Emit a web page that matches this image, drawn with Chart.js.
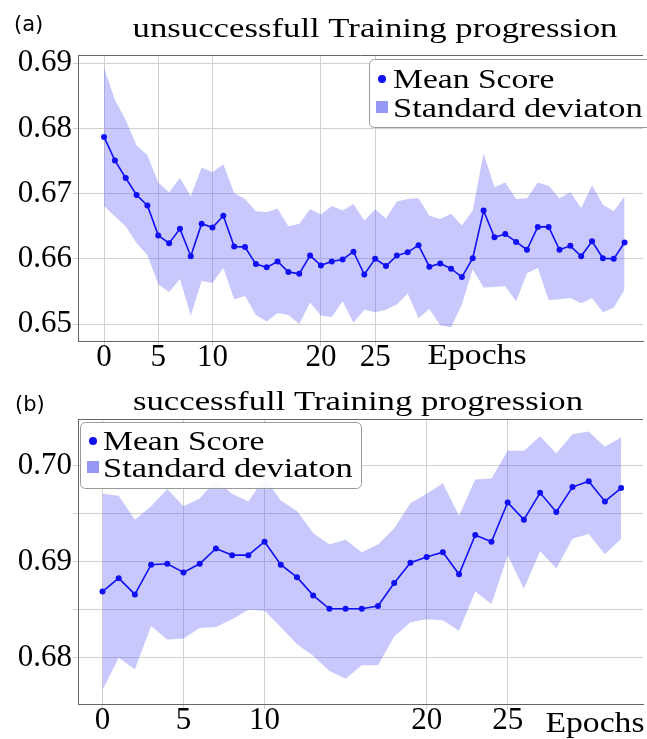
<!DOCTYPE html>
<html>
<head>
<meta charset="utf-8">
<script src="https://cdn.jsdelivr.net/npm/chart.js@4.4.1/dist/chart.umd.min.js"></script>
<style>
  body { margin: 0; background: #fff; }
  #wrap { position: relative; width: 647px; height: 739px; }
  canvas { position: absolute; left: 0; }
</style>
</head>
<body>
<div id="wrap">
  <canvas id="chartA" width="647" height="370" style="top:0"></canvas>
  <canvas id="chartB" width="647" height="369" style="top:370px"></canvas>
</div>
<script>
// (a) unsuccessful run, epochs 0..48
const meanA = [0.6787, 0.6751, 0.6724, 0.6698, 0.6682, 0.6636, 0.6624, 0.6646, 0.6604, 0.6654,
               0.6648, 0.6666, 0.6619, 0.6618, 0.6592, 0.6587, 0.6596, 0.6580, 0.6577, 0.6605,
               0.6590, 0.6596, 0.6599, 0.6611, 0.6576, 0.6600, 0.6589, 0.6605, 0.6610, 0.6621,
               0.6588, 0.6593, 0.6585, 0.6572, 0.6601, 0.6674, 0.6633, 0.6638, 0.6626, 0.6614,
               0.6649, 0.6649, 0.6614, 0.6620, 0.6604, 0.6627, 0.6601, 0.6600, 0.6625];
const upperA = [0.6893, 0.6844, 0.6813, 0.6774, 0.6759, 0.6717, 0.6702, 0.6724, 0.6696, 0.6740,
                0.6733, 0.6745, 0.6701, 0.6692, 0.6673, 0.6672, 0.6677, 0.6650, 0.6654, 0.6676,
                0.6668, 0.6681, 0.6674, 0.6684, 0.6659, 0.6676, 0.6662, 0.6688, 0.6692, 0.6693,
                0.6666, 0.6661, 0.6669, 0.6651, 0.6674, 0.6762, 0.6710, 0.6717, 0.6692, 0.6693,
                0.6717, 0.6712, 0.6693, 0.6702, 0.6678, 0.6713, 0.6683, 0.6673, 0.6696];
const lowerA = [0.6681, 0.6665, 0.6650, 0.6624, 0.6606, 0.6561, 0.6549, 0.6569, 0.6513, 0.6566,
                0.6563, 0.6586, 0.6538, 0.6543, 0.6514, 0.6504, 0.6517, 0.6514, 0.6500, 0.6533,
                0.6513, 0.6511, 0.6535, 0.6502, 0.6522, 0.6518, 0.6522, 0.6530, 0.6547, 0.6509,
                0.6523, 0.6498, 0.6495, 0.6530, 0.6584, 0.6556, 0.6557, 0.6558, 0.6535, 0.6578,
                0.6586, 0.6537, 0.6538, 0.6540, 0.6532, 0.6540, 0.6518, 0.6525, 0.6553];

// (b) successful run, epochs 0..32
const meanB = [0.6869, 0.6883, 0.6866, 0.6897, 0.6898, 0.6889, 0.6898, 0.6914, 0.6907, 0.6907,
               0.6921, 0.6897, 0.6884, 0.6865, 0.6851, 0.6851, 0.6851, 0.6854, 0.6878, 0.6899,
               0.6905, 0.6910, 0.6887, 0.6928, 0.6921, 0.6962, 0.6944, 0.6972, 0.6952, 0.6978,
               0.6984, 0.6963, 0.6977];
const upperB = [0.6971, 0.6969, 0.6944, 0.6958, 0.6976, 0.6958, 0.6966, 0.6985, 0.6971, 0.6963,
                0.6988, 0.6964, 0.6953, 0.6930, 0.6918, 0.6923, 0.6910, 0.6918, 0.6935, 0.6961,
                0.6971, 0.6982, 0.6948, 0.6986, 0.6987, 0.7016, 0.7016, 0.7031, 0.7013, 0.7033,
                0.7036, 0.7020, 0.7030];
const lowerB = [0.6766, 0.6800, 0.6788, 0.6833, 0.6819, 0.6820, 0.6831, 0.6832, 0.6840, 0.6850,
                0.6849, 0.6832, 0.6814, 0.6802, 0.6786, 0.6778, 0.6792, 0.6792, 0.6822, 0.6837,
                0.6840, 0.6839, 0.6828, 0.6869, 0.6856, 0.6907, 0.6872, 0.6911, 0.6893, 0.6924,
                0.6929, 0.6908, 0.6924];

const xTicksA = [0, 5, 10, 20, 25];
const xTicksB = [0, 5, 10, 20, 25];
const yTicksA = [0.65, 0.655, 0.66, 0.665, 0.67, 0.675, 0.68, 0.685, 0.69];
const yTicksB = [0.68, 0.685, 0.69, 0.695, 0.70];

const seriesNames = ["Mean Score", "Standard deviaton"];

const lineColor = "#1010f2";
const bandColor = "rgba(95, 95, 245, 0.34)";
const bandKey = "rgba(95, 95, 245, 0.65)";
const gridColor = "#d0d0d0";
const frameColor = "#666";
const textColor = "#000";
const serifFont = '"Liberation Serif", "Times New Roman", serif';

function pts(arr) {
    return arr.map((v, i) => ({ x: i, y: v }));
}

// text a bit wider than Liberation Serif, like the original Libertine
function serifText(ctx, text, x, y, size, stretch, align) {
    ctx.save();
    ctx.font = size + "px " + serifFont;
    ctx.textAlign = align;
    ctx.textBaseline = "alphabetic";
    ctx.translate(x, y);
    ctx.scale(stretch, 1);
    ctx.fillText(text, 0, 0);
    ctx.restore();
}

const decor = {
    id: "decor",
    afterDraw(chart, args, o) {
        const ctx = chart.ctx;
        const a = chart.chartArea;
        ctx.save();

        // top edge of the frame
        ctx.strokeStyle = frameColor;
        ctx.lineWidth = 1;
        ctx.beginPath();
        ctx.moveTo(a.left, a.top + 0.5);
        ctx.lineTo(a.right, a.top + 0.5);
        ctx.stroke();

        ctx.fillStyle = textColor;
        ctx.font = '21px "DejaVu Sans"';
        ctx.textAlign = "left";
        ctx.fillText(o.tag, o.tagX, o.tagY);

        serifText(ctx, o.title, o.titleX, o.titleY, 28, 1.24, "center");
        serifText(ctx, "Epochs", o.epochsX, o.epochsY, 29, 1.16, "center");

        // legend box
        const L = o.legend;
        ctx.beginPath();
        ctx.roundRect(L.x + 0.5, L.y + 0.5, L.w, L.h, 5);
        ctx.fillStyle = "rgba(255,255,255,0.92)";
        ctx.fill();
        ctx.strokeStyle = "#999";
        ctx.stroke();

        ctx.fillStyle = lineColor;
        ctx.beginPath();
        ctx.arc(L.markX, L.row1 - 9, 4, 0, Math.PI * 2);
        ctx.fill();
        ctx.fillStyle = bandKey;
        ctx.fillRect(L.markX - 6, L.row2 - 16, 12, 12);

        ctx.fillStyle = textColor;
        serifText(ctx, chart.data.datasets[0].label, L.textX, L.row1, 28, 1.2, "left");
        serifText(ctx, chart.data.datasets[1].label, L.textX, L.row2, 28, 1.23, "left");
        ctx.restore();
    }
};

function makeChart(id, p) {
    new Chart(document.getElementById(id), {
        type: "line",
        data: {
            datasets: [
                {
                    label: seriesNames[0],
                    data: pts(p.mean),
                    borderColor: lineColor,
                    backgroundColor: lineColor,
                    borderWidth: 1.6,
                    pointRadius: 3,
                    pointBackgroundColor: lineColor,
                    pointBorderWidth: 0,
                    tension: 0
                },
                {
                    label: seriesNames[1],
                    data: pts(p.upper),
                    borderWidth: 0,
                    pointRadius: 0,
                    backgroundColor: bandColor,
                    fill: "+1"
                },
                {
                    label: "lower",
                    data: pts(p.lower),
                    borderWidth: 0,
                    pointRadius: 0,
                    fill: false
                }
            ]
        },
        options: {
            responsive: false,
            animation: false,
            devicePixelRatio: 1,
            layout: { padding: { top: p.padTop, left: 0, right: 0, bottom: 0 } },
            scales: {
                x: {
                    type: "linear",
                    min: p.xMin,
                    max: p.xMax,
                    afterBuildTicks: s => { s.ticks = p.xTicks.map(v => ({ value: v })); },
                    afterFit: s => { s.height = p.xHeight; },
                    grid: { color: gridColor, tickLength: 5 },
                    border: { color: frameColor },
                    ticks: {
                        color: textColor,
                        padding: -4,
                        maxRotation: 0,
                        font: { family: serifFont, size: 31, lineHeight: 1 }
                    }
                },
                y: {
                    min: p.yMin,
                    max: p.yMax,
                    afterBuildTicks: s => { s.ticks = p.yTicks.map(v => ({ value: v })); },
                    afterFit: s => { s.width = 78; },
                    grid: { color: gridColor, tickLength: 5 },
                    border: { color: frameColor },
                    ticks: {
                        color: textColor,
                        padding: 1,
                        font: { family: serifFont, size: 31 },
                        callback: v => (Math.round(v * 1000) % 10 === 0 ? v.toFixed(2) : "")
                    }
                }
            },
            plugins: {
                legend: { display: false },
                tooltip: { enabled: false },
                decor: p.decor
            }
        },
        plugins: [decor]
    });
}

makeChart("chartA", {
    mean: meanA, upper: upperA, lower: lowerA,
    xMin: -2.4, xMax: 49.7, yMin: 0.6474, yMax: 0.69127,
    xTicks: xTicksA, yTicks: yTicksA,
    padTop: 55, xHeight: 29,
    decor: {
        tag: "(a)", tagX: 14, tagY: 31,
        title: "unsuccessfull Training progression", titleX: 375, titleY: 37,
        epochsX: 477, epochsY: 364,
        legend: { x: 369, y: 59, w: 300, h: 68, markX: 382, textX: 393, row1: 88, row2: 117 }
    }
});

makeChart("chartB", {
    mean: meanB, upper: upperB, lower: lowerB,
    xMin: -1.51, xMax: 33.35, yMin: 0.67517, yMax: 0.7049,
    xTicks: xTicksB, yTicks: yTicksB,
    padTop: 49, xHeight: 35,
    decor: {
        tag: "(b)", tagX: 15, tagY: 41,
        title: "successfull Training progression", titleX: 358, titleY: 40,
        epochsX: 595, epochsY: 362,
        legend: { x: 80, y: 52, w: 281, h: 66, markX: 93, textX: 103, row1: 80, row2: 107 }
    }
});
</script>
</body>
</html>
